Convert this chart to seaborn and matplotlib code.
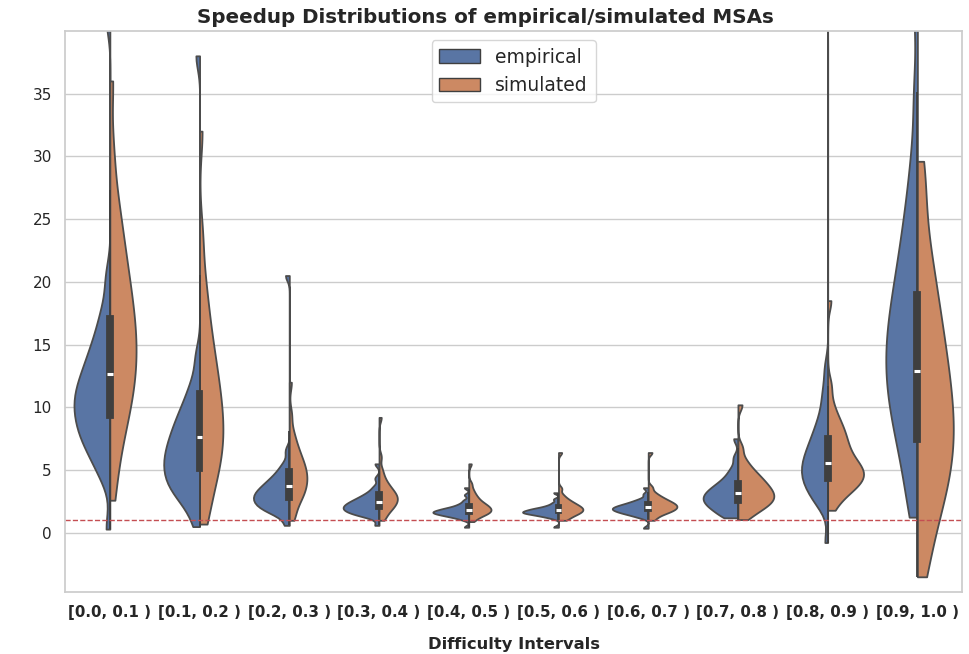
import numpy as np
import pandas as pd
import matplotlib
matplotlib.use("Agg")
import matplotlib.pyplot as plt
from matplotlib.patches import Patch
import seaborn as sns

intervals = ["[0.0, 0.1 )", "[0.1, 0.2 )", "[0.2, 0.3 )", "[0.3, 0.4 )", "[0.4, 0.5 )",
             "[0.5, 0.6 )", "[0.6, 0.7 )", "[0.7, 0.8 )", "[0.8, 0.9 )", "[0.9, 1.0 )"]
types = ["empirical", "simulated"]

emp_0 = [0.3, 4.3, 5.2, 6.0, 6.5, 7.0, 7.4, 7.8, 8.2, 8.5, 8.9, 9.2, 9.6, 9.9, 10.2, 10.5,
         10.9, 11.2, 11.5, 11.9, 12.2, 12.7, 13.1, 13.5, 14.1, 14.6, 15.2, 16.0, 16.9, 18.1, 20.4, 41.0]
sim_0 = [2.6, 5.0, 6.55, 7.82, 8.67, 9.51, 10.27, 10.88, 11.49, 12.1, 12.69, 13.24, 13.79, 14.33,
         14.88, 15.44, 16.0, 16.57, 17.13, 17.74, 18.4, 19.08, 19.74, 20.51, 21.36, 22.2, 23.23,
         24.32, 25.64, 27.33, 30.5, 36.0]
emp_1 = [0.5, 1.78, 2.4, 2.88, 3.22, 3.53, 3.83, 4.12, 4.39, 4.65, 4.92, 5.19, 5.45, 5.71, 5.97,
         6.24, 6.52, 6.8, 7.08, 7.4, 7.71, 8.03, 8.39, 8.75, 9.14, 9.58, 10.04, 10.63, 11.32, 12.27,
         14.1, 38.0]
sim_1 = [0.7, 1.46, 2.97, 3.7, 4.42, 5.11, 5.61, 6.12, 6.63, 7.13, 7.64, 8.11, 8.6, 9.09, 9.57,
         10.07, 10.63, 11.21, 11.78, 12.34, 13.03, 13.75, 14.48, 15.32, 16.36, 17.43, 18.84, 20.56,
         23.7, 32.0]
emp_2 = [0.6, 1.33, 1.61, 1.75, 1.9, 2.04, 2.15, 2.27, 2.38, 2.5, 2.61, 2.72, 2.82, 2.93, 3.04,
         3.15, 3.27, 3.39, 3.5, 3.65, 3.79, 3.94, 4.11, 4.31, 4.5, 4.79, 5.1, 5.57, 6.55, 20.5]
sim_2 = [1.0, 1.41, 2.09, 2.39, 2.69, 2.99, 3.19, 3.39, 3.59, 3.79, 3.99, 4.18, 4.36, 4.54, 4.73,
         4.91, 5.11, 5.33, 5.55, 5.77, 5.99, 6.32, 6.65, 6.98, 7.51, 8.12, 9.43, 12.0]
emp_3 = [0.6, 1.24, 1.36, 1.48, 1.56, 1.63, 1.71, 1.78, 1.84, 1.91, 1.97, 2.04, 2.11, 2.17, 2.24,
         2.31, 2.39, 2.46, 2.55, 2.64, 2.74, 2.86, 2.98, 3.15, 3.36, 3.69, 4.34, 5.5]
sim_3 = [1.0, 1.24, 1.58, 1.75, 1.92, 2.06, 2.18, 2.3, 2.42, 2.53, 2.63, 2.73, 2.84, 2.94, 3.05,
         3.17, 3.3, 3.42, 3.58, 3.77, 3.95, 4.23, 4.58, 5.08, 6.05, 9.2]
emp_4 = [0.45, 1.05, 1.2, 1.29, 1.35, 1.4, 1.46, 1.51, 1.55, 1.58, 1.62, 1.66, 1.69, 1.73, 1.77,
         1.82, 1.87, 1.92, 1.97, 2.03, 2.13, 2.23, 2.38, 2.6, 3.02, 3.6]
sim_4 = [0.9, 1.14, 1.31, 1.41, 1.5, 1.57, 1.63, 1.7, 1.76, 1.82, 1.89, 1.95, 2.01, 2.09, 2.16,
         2.23, 2.32, 2.42, 2.52, 2.66, 2.81, 2.98, 3.2, 3.49, 3.93, 5.5]
emp_5 = [0.45, 1.16, 1.3, 1.36, 1.42, 1.49, 1.53, 1.56, 1.6, 1.63, 1.67, 1.7, 1.74, 1.78, 1.82,
         1.87, 1.92, 1.96, 2.02, 2.12, 2.22, 2.4, 2.68, 3.2]
sim_5 = [1.0, 1.12, 1.29, 1.39, 1.48, 1.56, 1.63, 1.69, 1.76, 1.82, 1.88, 1.94, 2.0, 2.07, 2.14,
         2.21, 2.3, 2.39, 2.49, 2.63, 2.78, 3.04, 3.53, 6.4]
emp_6 = [0.37, 1.21, 1.36, 1.47, 1.55, 1.61, 1.67, 1.74, 1.79, 1.84, 1.89, 1.94, 1.98, 2.04, 2.09,
         2.15, 2.21, 2.27, 2.36, 2.45, 2.56, 2.73, 3.09, 3.6]
sim_6 = [1.0, 1.26, 1.45, 1.57, 1.66, 1.75, 1.82, 1.89, 1.96, 2.03, 2.09, 2.16, 2.22, 2.29, 2.36,
         2.44, 2.52, 2.62, 2.72, 2.85, 3.0, 3.23, 3.64, 6.4]
emp_7 = [1.2, 1.28, 1.6, 1.77, 1.93, 2.07, 2.2, 2.33, 2.46, 2.58, 2.69, 2.8, 2.92, 3.03, 3.16,
         3.29, 3.42, 3.56, 3.73, 3.9, 4.11, 4.38, 4.72, 5.18, 6.01, 7.5]
sim_7 = [1.06, 1.44, 1.7, 1.92, 2.09, 2.23, 2.37, 2.51, 2.64, 2.77, 2.88, 3.01, 3.14, 3.27, 3.4,
         3.54, 3.69, 3.84, 3.99, 4.18, 4.36, 4.55, 4.79, 5.06, 5.4, 5.9, 6.8, 10.2]
emp_8 = [-0.77, 1.97, 2.44, 2.88, 3.2, 3.48, 3.76, 4.03, 4.25, 4.47, 4.7, 4.92, 5.15, 5.38, 5.61,
         5.84, 6.09, 6.37, 6.64, 6.91, 7.26, 7.62, 7.98, 8.46, 8.94, 9.64, 10.58, 11.6, 13.2, 42.0]
sim_8 = [1.8, 2.53, 2.99, 3.26, 3.52, 3.71, 3.91, 4.08, 4.24, 4.4, 4.56, 4.71, 4.86, 5.02, 5.18,
         5.35, 5.53, 5.76, 5.98, 6.24, 6.51, 6.81, 7.11, 7.42, 7.74, 8.08, 8.45, 8.88, 9.4, 10.24,
         11.73, 18.5]
emp_9 = [1.25, 2.85, 4.8, 6.0, 7.11, 8.03, 8.84, 9.66, 10.38, 11.04, 11.7, 12.36, 12.99, 13.61,
         14.23, 14.85, 15.51, 16.18, 16.85, 17.53, 18.32, 19.12, 19.92, 20.9, 21.9, 23.02, 24.32,
         25.84, 27.67, 30.4, 35.1, 42.0]
sim_9 = [-3.5, -1.68, 0.22, 1.26, 2.32, 3.13, 3.91, 4.68, 5.38, 6.03, 6.68, 7.33, 7.98, 8.62, 9.26,
         9.9, 10.6, 11.3, 12.0, 12.72, 13.53, 14.32, 15.14, 16.08, 17.03, 18.08, 19.24, 20.5, 22.0,
         23.95, 26.88, 29.6]

empirical = [emp_0, emp_1, emp_2, emp_3, emp_4, emp_5, emp_6, emp_7, emp_8, emp_9]
simulated = [sim_0, sim_1, sim_2, sim_3, sim_4, sim_5, sim_6, sim_7, sim_8, sim_9]

# relative maximal half-width of each half violin (style)
width_emp = [1.0, 1.0, 1.0, 1.0, 1.0, 1.0, 1.0, 0.97, 0.73, 0.88]
width_sim = [0.73, 0.65, 0.49, 0.51, 0.62, 0.68, 0.8, 1.0, 1.0, 1.0]

rows = []
for lab, e, s in zip(intervals, empirical, simulated):
    rows += [(lab, "empirical", v) for v in e]
    rows += [(lab, "simulated", v) for v in s]
df = pd.DataFrame(rows, columns=["interval", "type", "speedup"])


def robust_bw(kde):
    d = np.asarray(kde.dataset, dtype=float).ravel()
    sd = d.std(ddof=1)
    q75, q25 = np.percentile(d, [75, 25])
    scale = min(sd, (q75 - q25) / 1.34)
    return 0.9 * scale * d.size ** -0.2 / sd


sns.set_theme(style="whitegrid")
fig, ax = plt.subplots(figsize=(9.7, 6.54), dpi=100)
fig.subplots_adjust(left=0.067, right=0.992, top=0.953, bottom=0.095)

for i, lab in enumerate(intervals):
    for typ, fr in zip(types, (width_emp[i], width_sim[i])):
        sub = df[(df["interval"] == lab) & (df["type"] == typ)]
        sns.violinplot(data=sub, x="interval", y="speedup", hue="type", order=intervals,
                       hue_order=types, split=True, dodge=True, inner=None, cut=0,
                       density_norm="width", bw_method=robust_bw, bw_adjust=0.7,
                       palette="deep", width=0.8 * fr, linewidth=1.3, legend=False, ax=ax)

sns.boxplot(data=df, x="interval", y="speedup", order=intervals, width=0.065,
            showfliers=False, showcaps=False, whis=1.5, color="#3f3f3f", saturation=1,
            linecolor="#3f3f3f", linewidth=1.3,
            medianprops={"color": "white", "linewidth": 2.2}, ax=ax)

ax.axhline(1, color="#c44e52", linestyle="--", linewidth=1)
ax.set_ylim(-4.7, 40)
ax.set_yticks(range(0, 40, 5))
ax.tick_params(axis="y", labelsize=11)
ax.tick_params(axis="x", labelsize=10.8)
for t in ax.get_xticklabels():
    t.set_fontweight("bold")
ax.set_xlabel("Difficulty Intervals", fontsize=11.8, fontweight="bold", labelpad=12)
ax.set_ylabel("")
fig.suptitle("Speedup Distributions of empirical/simulated MSAs", fontsize=14.3,
             fontweight="bold", y=0.988)

pal = sns.color_palette("deep", 2)
handles = [Patch(facecolor=sns.desaturate(c, 0.75), edgecolor="#3f3f3f", linewidth=1.0, label=t)
           for c, t in zip(pal, types)]
ax.legend(handles=handles, loc="upper center", fontsize=13.5, frameon=True,
          handlelength=2.2)

fig.savefig("out.png", dpi=100)
